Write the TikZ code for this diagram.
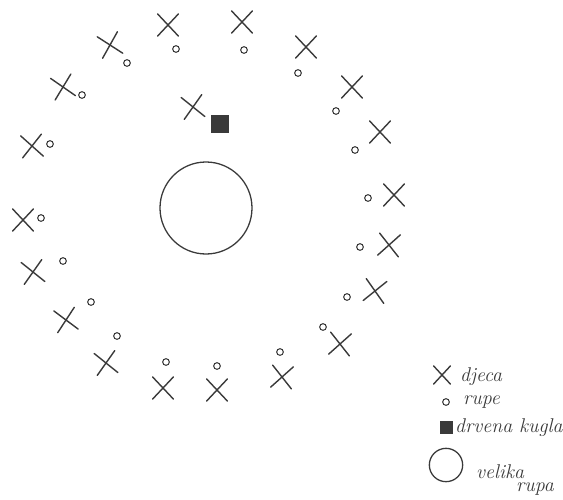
\documentclass[tikz,border=0pt]{standalone}
\usetikzlibrary{shapes.misc, positioning}
\definecolor{olovka}{HTML}{3A3A3A}
\tikzset{
  % dijete na igralistu
  dijete/.style={cross out, draw=olovka, line width=1.2pt, minimum width=0.58cm,
    minimum height=0.62cm, inner sep=0pt, line cap=round},
  % mala rupa u zemlji
  rupica/.style={circle, draw=olovka, line width=0.9pt, minimum size=0.2cm, inner sep=0pt},
  % drvena kugla
  kugla/.style={rectangle, draw=olovka, fill=olovka, minimum size=0.5cm, inner sep=0pt},
  % velika rupa u sredini
  velrupa/.style={circle, draw=olovka, line width=1.1pt, minimum size=2.76cm, inner sep=0pt},
  % tekst legende
  legtxt/.style={font=\fontsize{17}{18}\selectfont\itshape, text=olovka, anchor=west,
    inner sep=0pt},
}

\begin{document}
\begin{tikzpicture}[x=0.03cm, y=-0.03cm]
  \useasboundingbox (0,0) rectangle (563,499);
  % djeca u krugu
  \foreach \px/\py/\rot [count=\i] in {168/25/0, 242/22/0, 110/45/14, 63/87/12, 32/146/5,
      23/220/0, 33/272/8, 66/320/10, 106/363/8, 163/388/0, 217/390/0, 282/377/-5,
      340/344/-5, 375/291/-8, 389/245/-5, 394/195/0, 380/132/0, 352/87/0, 306/47/0,
      193/107/8}
    \node[dijete, rotate=\rot] (d\i) at (\px,\py) {};
  % rupe
  \foreach \px/\py [count=\i] in {176/49, 244/50, 127/63, 82/95, 50/144, 41/218, 63/261,
      91/302, 117/336, 166/362, 217/366, 280/352, 323/327, 347/297, 360/247, 368/198,
      355/150, 336/111, 298/73}
    \node[rupica] (r\i) at (\px,\py) {};
  \node[kugla] (kugla) at (220,124) {};
  \node[velrupa] (rupa) at (206,208) {};
  % legenda
  \node[dijete, minimum width=0.46cm, minimum height=0.5cm] (ldij) at (442,375) {};
  \node[legtxt] (tdij) at (460,377) {djeca};
  \node[rupica] (lrup) at (446,402) {};
  \node[legtxt] (trup) at (463,402) {rupe};
  \node[kugla, minimum size=0.36cm] (lkug) at (446,427) {};
  \node[legtxt] (tkug) at (455,428) {drvena kugla};
  \node[velrupa, minimum size=1cm] (lvel) at (446,465) {};
  \node[legtxt] (tvel) at (476,472) {velika};
  \node[legtxt] (tvel2) at (516,489) {rupa};
\end{tikzpicture}
\end{document}
